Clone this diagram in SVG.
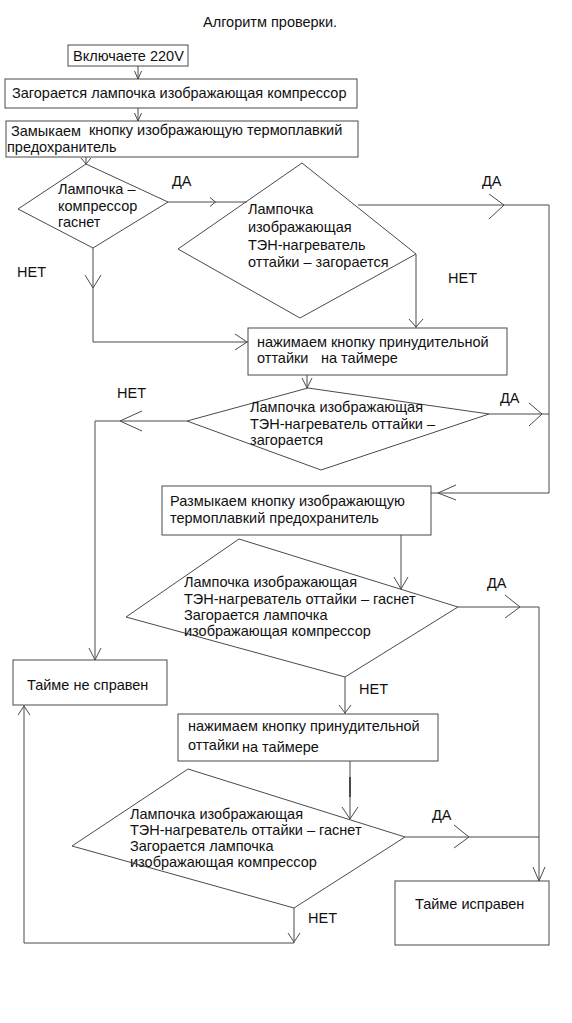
<svg xmlns="http://www.w3.org/2000/svg" width="572" height="1023" viewBox="0 0 572 1023">
<style>
.bg{fill:#fff}
.box{fill:#fff;stroke:#4a4a4a;stroke-width:1}
.dia{fill:none;stroke:#4a4a4a;stroke-width:1}
.ln{fill:none;stroke:#4a4a4a;stroke-width:1}
.ah{fill:none;stroke:#4a4a4a;stroke-width:1}
text{font-family:"Liberation Sans",Arial,sans-serif;font-size:14.5px;fill:#111}
</style>
<rect class="bg" x="0" y="0" width="572" height="1023"/>
<text id="title" x="203" y="27">Алгоритм проверки.</text>

<g id="connectors">
<path class="ln" d="M138,66 V79"/>
<path class="ah" d="M134.5,71 L138,79 L141.5,71"/>
<path class="ln" d="M138,108 V121"/>
<path class="ah" d="M134.5,113 L138,121 L141.5,113"/>
<path class="ln" d="M86,157 V164"/>
<path class="ah" d="M81,158 L86,164 L91,158"/>
<path class="ln" d="M168,202 H247"/>
<path class="ah" d="M210,197.5 L215.5,202 L210,206.5"/>
<path class="ln" d="M358,205 H549 V493 H431"/>
<path class="ah" d="M489,194 L504,205 L489,219"/>
<path class="ah" d="M456,485 L438,493 L456,500"/>
<path class="ln" d="M93,248 V342 H248"/>
<path class="ah" d="M85,275 L93,288 L101,275"/>
<path class="ah" d="M235,334 L247,342 L235,350"/>
<path class="ln" d="M416,254 V328"/>
<path class="ah" d="M409,319 L416,327 L423,319"/>
<path class="ln" d="M307,375 V388"/>
<path class="ah" d="M302,378 L307,388 L312,378"/>
<path class="ln" d="M489,414 H549"/>
<path class="ah" d="M529,403 L542,414 L529,426"/>
<path class="ln" d="M187,421 H95 V660"/>
<path class="ah" d="M142,411 L120,421 L142,431"/>
<path class="ah" d="M89,648 L95,660 L101,648"/>
<path class="ln" d="M401,535 V589"/>
<path class="ah" d="M394,577 L401,589 L408,577"/>
<path class="ln" d="M458,607 H539 V881"/>
<path class="ah" d="M505,595 L520,607 L505,618"/>
<path class="ah" d="M533,867 L539,881 L545,867"/>
<path class="ln" d="M345,677 V714"/>
<path class="ah" d="M339,705 L345,713 L351,705"/>
<path class="ln" d="M350,761 V819"/>
<path class="ln" d="M350,777 V797" style="stroke-width:2"/>
<path class="ah" d="M342,807 L350,819 L358,807"/>
<path class="ln" d="M405,837 H539"/>
<path class="ah" d="M454,825 L469,837 L454,848"/>
<path class="ln" d="M294,908 V943 H24 V705"/>
<path class="ah" d="M288,933 L294,942 L300,933"/>
<path class="ah" d="M18,715 L24,706 L30,715"/>
</g>

<g id="labels">
<text x="172" y="186">ДА</text>
<text x="482" y="186">ДА</text>
<text x="17" y="277">НЕТ</text>
<text x="448" y="283">НЕТ</text>
<text x="117" y="398">НЕТ</text>
<text x="500" y="403">ДА</text>
<text x="487" y="588">ДА</text>
<text x="359" y="694">НЕТ</text>
<text x="432" y="820">ДА</text>
<text x="308" y="923">НЕТ</text>
</g>

<g id="n_start">
<rect class="box" x="68" y="45" width="120" height="21"/>
<text x="73" y="61">Включаете 220V</text>
</g>
<g id="n_comp_on">
<rect class="box" x="5" y="79" width="352" height="29"/>
<text x="12" y="98">Загорается лампочка изображающая компрессор</text>
</g>
<g id="n_close_fuse">
<rect class="box" x="6" y="121" width="352" height="36"/>
<text x="11" y="136">Замыкаем</text>
<text x="89" y="135">кнопку изображающую термоплавкий</text>
<text x="7" y="152">предохранитель</text>
</g>
<g id="d_comp_off">
<polygon class="dia" points="18,209 86,164 168,202 93,248"/>
<text x="58" y="194">Лампочка –</text>
<text x="58" y="211">компрессор</text>
<text x="58" y="227">гаснет</text>
</g>
<g id="d_heater_on1">
<polygon class="dia" points="178,249 302,163 416,254 300,318"/>
<text x="248" y="214">Лампочка</text>
<text x="248" y="232">изображающая</text>
<text x="248" y="250">ТЭН-нагреватель</text>
<text x="248" y="267">оттайки – загорается</text>
</g>
<g id="n_press1">
<rect class="box" x="248" y="328" width="259" height="47"/>
<text x="257" y="347">нажимаем кнопку принудительной</text>
<text x="257" y="363">оттайки</text>
<text x="321" y="363">на таймере</text>
</g>
<g id="d_heater_on2">
<polygon class="dia" points="187,421 308,388 489,414 321,470"/>
<text x="250" y="412">Лампочка изображающая</text>
<text x="250" y="429">ТЭН-нагреватель оттайки –</text>
<text x="250" y="445">загорается</text>
</g>
<g id="n_open_fuse">
<rect class="box" x="162" y="486" width="269" height="49"/>
<text x="170" y="506">Размыкаем кнопку изображающую</text>
<text x="170" y="523">термоплавкий предохранитель</text>
</g>
<g id="d_heater_off1">
<polygon class="dia" points="126,617 239,539 458,607 345,677"/>
<text x="184" y="587">Лампочка изображающая</text>
<text x="184" y="604">ТЭН-нагреватель оттайки – гаснет</text>
<text x="184" y="620">Загорается лампочка</text>
<text x="184" y="636">изображающая компрессор</text>
</g>
<g id="n_faulty">
<rect class="box" x="13" y="660" width="154" height="45"/>
<text x="27" y="690">Тайме не справен</text>
</g>
<g id="n_press2">
<rect class="box" x="178" y="714" width="260" height="47"/>
<text x="188" y="731">нажимаем кнопку принудительной</text>
<text x="188" y="750">оттайки</text>
<text x="242" y="751.5">на таймере</text>
</g>
<g id="d_heater_off2">
<polygon class="dia" points="72,846 188,769 405,837 294,908"/>
<text x="130" y="819">Лампочка изображающая</text>
<text x="130" y="835">ТЭН-нагреватель оттайки – гаснет</text>
<text x="130" y="851">Загорается лампочка</text>
<text x="130" y="867">изображающая компрессор</text>
</g>
<g id="n_ok">
<rect class="box" x="395" y="881" width="154" height="64"/>
<text x="415" y="909">Тайме исправен</text>
</g>
</svg>
